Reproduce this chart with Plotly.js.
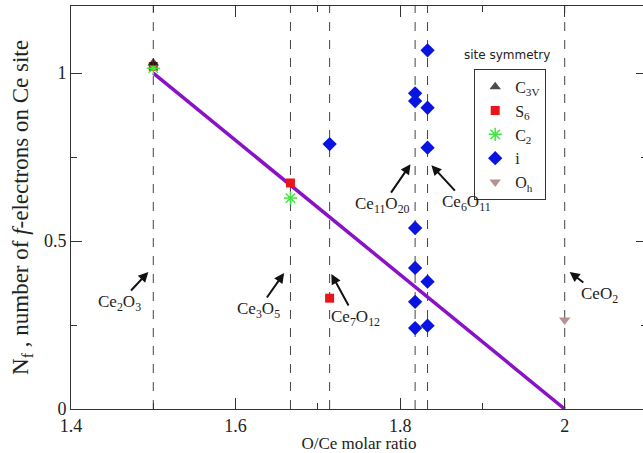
<!DOCTYPE html>
<html>
<head>
<meta charset="utf-8">
<script src="https://cdn.plot.ly/plotly-3.0.1.min.js"></script>
<style>
html,body{margin:0;padding:0;overflow:hidden;background:#fff;}
#chart{width:648px;height:453px;}
</style>
</head>
<body>
<div id="chart"></div>
<script>
// Phase compositions (O/Ce ratio) and labels
const phaseX = [1.5, 1.6667, 1.7143, 1.8182, 1.8333, 2.0];
const phaseLabels = ["Ce<sub>2</sub>O<sub>3</sub>", "Ce<sub>3</sub>O<sub>5</sub>", "Ce<sub>7</sub>O<sub>12</sub>",
                     "Ce<sub>11</sub>O<sub>20</sub>", "Ce<sub>6</sub>O<sub>11</sub>", "CeO<sub>2</sub>"];
// arrow tip positions (data coords) and text offsets (pixels)
const arrowTipX = [1.494, 1.659, 1.7164, 1.8126, 1.838, 2.006];
const arrowTipY = [0.408, 0.405, 0.402, 0.729, 0.726, 0.408];
const arrowAx = [-29, -26, 24, -28, 35, 30];
const arrowAy = [31, 37, 44, 41, 38, 23];

// Site symmetry series
const c3vX = [1.5];            const c3vY = [1.03];
const s6X  = [1.5, 1.6667, 1.7143]; const s6Y = [1.02, 0.673, 0.330];
const c2X  = [1.5, 1.6667];    const c2Y  = [1.015, 0.628];
const iX   = [1.7143, 1.8182, 1.8182, 1.8182, 1.8182, 1.8182, 1.8182, 1.8333, 1.8333, 1.8333, 1.8333, 1.8333];
const iY   = [0.789, 0.940, 0.917, 0.539, 0.420, 0.319, 0.241, 1.068, 0.897, 0.778, 0.379, 0.248];
const ohX  = [2.0];            const ohY  = [0.265];

// Ideal line
const lineX = [1.5, 2.0];
const lineY = [1.0, 0.0];

const serif = "Times New Roman, Liberation Serif, DejaVu Serif, serif";

const traces = [
  {x: lineX, y: lineY, mode: "lines", line: {color: "#8a12c6", width: 3.5}, showlegend: false, hoverinfo: "skip"},
  {x: s6X, y: s6Y, mode: "markers", name: "S<sub>6</sub>", legendrank: 2,
   marker: {symbol: "square", color: "#e8161b", size: 9}},
  {x: c2X, y: c2Y, mode: "markers", name: "C<sub>2</sub>", legendrank: 3,
   marker: {symbol: "asterisk-open", color: "#3ee83e", size: 11, line: {color: "#3ee83e", width: 1.5}}},
  {x: c3vX, y: c3vY, mode: "markers", name: "C<sub>3V</sub>", legendrank: 1,
   marker: {symbol: "triangle-up", color: "#000000", size: 10, opacity: 0.7}},
  {x: iX, y: iY, mode: "markers", name: "i", legendrank: 4,
   marker: {symbol: "diamond", color: "#0a14e0", size: 11}},
  {x: ohX, y: ohY, mode: "markers", name: "O<sub>h</sub>", legendrank: 5,
   marker: {symbol: "triangle-down", color: "#b89090", size: 10}}
];

const shapes = phaseX.map(x => ({
  type: "line", xref: "x", yref: "paper", x0: x, x1: x, y0: 0, y1: 1,
  line: {color: "#444", width: 1, dash: "dash"}, layer: "below"
}));

const annotations = phaseLabels.map((t, k) => ({
  x: arrowTipX[k], y: arrowTipY[k], xref: "x", yref: "y",
  text: t, showarrow: true, arrowhead: 2, arrowsize: 1, arrowwidth: 2, arrowcolor: "#111",
  ax: arrowAx[k], ay: arrowAy[k], font: {family: serif, size: 17, color: "#222"}
}));
annotations.push({
  xref: "paper", yref: "paper", x: 0.757, y: 0.878, xanchor: "center", yanchor: "middle",
  text: "site symmetry", showarrow: false,
  font: {family: "DejaVu Sans", size: 12, color: "#222"}
});

const layout = {
  width: 648, height: 453,
  margin: {l: 71, r: 1, t: 6, b: 44},
  paper_bgcolor: "#fff", plot_bgcolor: "#fff",
  font: {family: serif, color: "#222"},
  xaxis: {
    range: [1.4, 2.1], tickvals: [1.4, 1.6, 1.8, 2.0], ticktext: ["1.4", "1.6", "1.8", "2"],
    ticks: "inside", ticklen: 11, tickcolor: "#333", showgrid: false, zeroline: false,
    showline: true, linecolor: "#333", linewidth: 1, mirror: "ticks",
    minor: {tickvals: [1.5, 1.7, 1.9], ticks: "inside", ticklen: 6, tickcolor: "#333", showgrid: false},
    tickfont: {family: serif, size: 18, color: "#222"},
    title: {text: "O/Ce molar ratio", font: {family: serif, size: 17, color: "#222"}, standoff: 1}
  },
  yaxis: {
    range: [0, 1.2], tickvals: [0, 0.5, 1], ticktext: ["0", "0.5", "1"],
    ticks: "inside", ticklen: 11, tickcolor: "#333", showgrid: false, zeroline: false,
    showline: true, linecolor: "#333", linewidth: 1, mirror: "ticks",
    minor: {tickvals: [0.25, 0.75], ticks: "inside", ticklen: 6, tickcolor: "#333", showgrid: false},
    tickfont: {family: serif, size: 18, color: "#222"},
    title: {text: "N<sub>f</sub> , number of <i>f</i>-electrons on Ce site", font: {family: serif, size: 23, color: "#222"}, standoff: 8}
  },
  legend: {
    x: 0.70, y: 0.844, xanchor: "left", yanchor: "top",
    bgcolor: "#fff", bordercolor: "#333", borderwidth: 1,
    font: {family: serif, size: 16, color: "#222"},
    tracegroupgap: 0, itemwidth: 30
  },
  shapes: shapes,
  annotations: annotations
};

Plotly.newPlot("chart", traces, layout, {displayModeBar: false, staticPlot: true});
</script>
</body>
</html>
